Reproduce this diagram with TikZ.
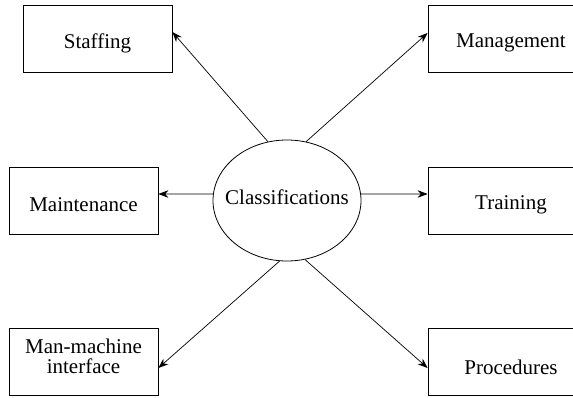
\documentclass[tikz,border=0pt]{standalone}
\usepackage{fontspec}
\setmainfont{Liberation Serif}
\usetikzlibrary{arrows.meta,calc,shapes.geometric}
\begin{document}
\begin{tikzpicture}[x=1pt,y=-1pt,
  every label/.style={font=\fontsize{21}{20}\selectfont,align=center,inner sep=0pt},
  catbox/.style={draw,line width=0.8pt,inner sep=0pt},
  leftbox/.style={catbox,minimum width=149pt,minimum height=67pt},
  rightbox/.style={catbox,minimum width=166pt,minimum height=67pt},
  hub/.style={draw,ellipse,line width=0.8pt,inner sep=0pt,minimum width=148pt,minimum height=121pt},
  link/.style={line width=0.7pt,-{Stealth[length=10pt,width=7.5pt]}}]
\useasboundingbox (0,0) rectangle (573,397);

% central ellipse
\node[hub,label={[yshift=3pt]center:Classifications}] (cls) at (287,200.5) {};

% category boxes
\node[leftbox,label={[yshift=-4pt]center:Staffing}]     (staff) at (97.5,39)  {};
\node[rightbox,label={[yshift=-4pt]center:Management}]  (mgmt)  at (511,38.5) {};
\node[leftbox,label={[yshift=-4pt]center:Maintenance}]  (maint) at (83.5,200.5) {};
\node[rightbox,label={[yshift=-4pt]center:Training}]    (train) at (511,200.5) {};
\node[leftbox,label={[yshift=5.5pt]center:Man-machine\\interface}] (mmi) at (83.5,362) {};
\node[rightbox,label={[yshift=-5pt]center:Procedures}]  (proc)  at (511,362)  {};

% connectors from the hub to each category
\draw[link] (cls.108.6) -- ($(staff.east)+(0,-7)$);
\draw[link] (cls.72.3)  -- ($(mgmt.west)+(0,-5.5)$);
\draw[link] (cls.175)   -- ($(maint.east)+(0,-6.5)$);
\draw[link] (cls.5)     -- ($(train.west)+(0,-6.5)$);
\draw[link] (cls.263.5) -- ($(mmi.east)+(0,6)$);
\draw[link] (cls.287.2) -- ($(proc.west)+(0,6)$);
\end{tikzpicture}
\end{document}
